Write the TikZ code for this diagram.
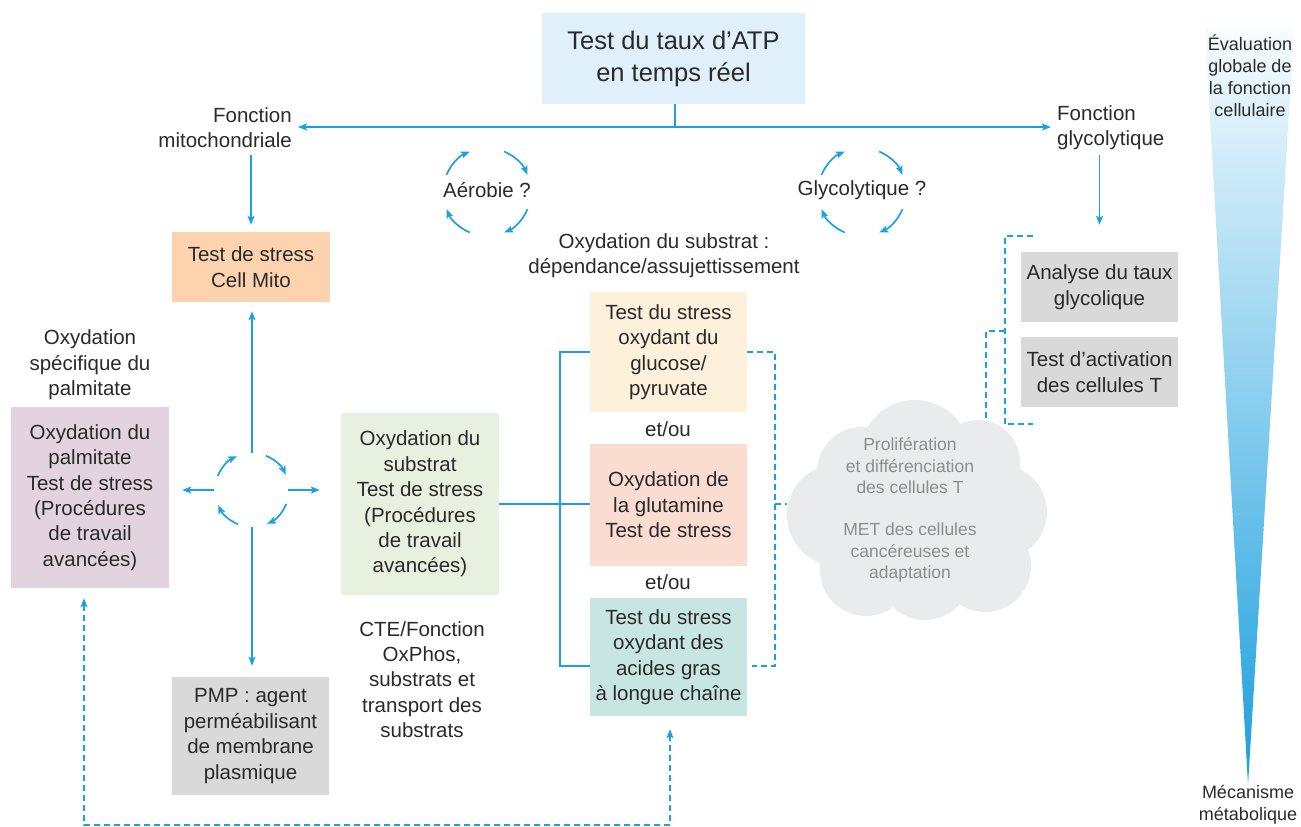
\documentclass[tikz,border=0pt]{standalone}
\usepackage{fontspec}
\setmainfont{Liberation Sans}
\usetikzlibrary{arrows.meta,calc}

\definecolor{flow}{HTML}{1BA1E2}
\definecolor{ink}{HTML}{2A2A2A}
\definecolor{atpblue}{HTML}{DFF0FA}
\definecolor{peach}{HTML}{FDD3AF}
\definecolor{mauve}{HTML}{E2D3DF}
\definecolor{sage}{HTML}{E8F1DF}
\definecolor{greybox}{HTML}{D9D9D9}
\definecolor{cream}{HTML}{FEF1DC}
\definecolor{salmon}{HTML}{FADCD1}
\definecolor{teal}{HTML}{C8E6E1}
\definecolor{cloudgrey}{HTML}{EAEBED}
\definecolor{cloudink}{HTML}{8C8E91}
\definecolor{triTop}{HTML}{F6FBFE}
\definecolor{triMid}{HTML}{A9DBF3}
\definecolor{triBot}{HTML}{1A9FDD}

\begin{document}
\begin{tikzpicture}[x=1pt,y=-1pt,
  every node/.style={text=ink, font=\fontsize{20.5}{25.4}\selectfont, align=center, inner sep=0pt},
  box/.style={rectangle, minimum width=158pt},
  small/.style={font=\fontsize{18}{22}\selectfont},
  flowline/.style={draw=flow, line width=1.7pt},
  tip/.style={-{Stealth[length=9pt,width=7pt,inset=2pt]}},
  arr/.style={flowline, tip},
  dashline/.style={draw=flow, line width=1.6pt, dash pattern=on 6pt off 4pt},
  dasharr/.style={dashline, {Stealth[length=9pt,width=7pt,inset=2pt]}-{Stealth[length=9pt,width=7pt,inset=2pt]}}
]
\useasboundingbox (0,0) rectangle (1301,827);

% gradient wedge on the right
\shade[top color=triTop, middle color=triMid, bottom color=triBot]
  (1205,30) -- (1294,30) -- (1248,785) -- cycle;
\node[small] (eval) at (1250,76) {Évaluation\\globale de\\la fonction\\cellulaire};
\node[small] (mech) at (1248,805) {Mécanisme\\métabolique};

% cloud
\begin{scope}
  \fill[cloudgrey] (915,512) ellipse [x radius=108, y radius=82];
  \foreach \cx/\cy/\r in {915/455/55, 862/472/45, 838/515/51, 866/570/46,
                          925/574/46, 985/566/46, 1000/512/47, 978/462/42}
    \fill[cloudgrey] (\cx,\cy) circle [radius=\r pt];
\end{scope}
\coordinate (cloudW) at (787,504);
\node[font=\fontsize{17.5}{21.3}\selectfont, text=cloudink] (cloudtxt) at (910,510)
  {Prolifération\\et différenciation\\des cellules T\\[21.3pt]MET des cellules\\cancéreuses et\\adaptation};

% top
\node[box, fill=atpblue, minimum width=263pt, minimum height=91pt,
      font=\fontsize{25.5}{32}\selectfont] (atp) at (673.5,58.5) {Test du taux d’ATP\\en temps réel};
\node[anchor=east, align=right] (mito) at (292,127.5) {Fonction\\mitochondriale};
\node[anchor=west, align=left] (glyco) at (1057,127.5) {Fonction\\glycolytique};
\coordinate (hub) at (675,127);
\draw[flowline] (atp.south -| hub) -- (hub);
\draw[arr, shorten >=6pt] (hub) -- (hub -| mito.east);
\draw[arr, shorten >=6pt] (hub) -- (hub -| glyco.west);

% question cycles
\node (aero) at (487,190) {Aérobie ?};
\node (glyq) at (862,190) {Glycolytique ?};
\coordinate (aeroC) at (487,192);
\coordinate (glyC) at (862,192);
\foreach \c in {aeroC,glyC}
  \foreach \a in {0,90,180,270}
    \draw[arr] ($(\c)+(\a+23:44)$) arc[start angle=\a+23, end angle=\a+67, radius=44];

\node (oxsub) at (664,255.5) {Oxydation du substrat :\\dépendance/assujettissement};

% left column
\node[box, fill=peach, minimum height=70pt] (cellmito) at (251,267) {Test de stress\\Cell Mito};
\draw[arr, shorten <=7pt, shorten >=7pt] (cellmito.north |- mito.south) -- (cellmito.north);

\node (palmlbl) at (90,365) {Oxydation\\spécifique du\\palmitate};
\node[box, fill=mauve, minimum height=181pt] (palm) at (90,497.5)
  {Oxydation du\\palmitate\\Test de stress\\(Procédures\\de travail\\avancées)};
\node[box, fill=sage, minimum height=182pt] (substrat) at (420,504)
  {Oxydation du\\substrat\\Test de stress\\(Procédures\\de travail\\avancées)};
\node[box, fill=greybox, minimum width=157pt, minimum height=118pt] (pmp) at (250.5,736)
  {PMP : agent\\perméabilisant\\de membrane\\plasmique};
\node (cte) at (422,679.5) {CTE/Fonction\\OxPhos,\\substrats et\\transport des\\substrats};

% cross of choices
\coordinate (cross) at (252,490);
\foreach \a in {0,90,180,270}
  \draw[arr] ($(cross)+(\a+22:37)$) arc[start angle=\a+22, end angle=\a+66, radius=37];
\draw[arr, shorten >=9pt] ($(cross)+(0,-37)$) -- (cross |- cellmito.south);
\draw[arr, shorten >=11pt] ($(cross)+(0,37)$) -- (cross |- pmp.north);
\draw[arr, shorten >=13pt] ($(cross)+(-38,0)$) -- (cross -| palm.east);
\draw[arr, shorten >=21pt] ($(cross)+(36,0)$) -- (cross -| substrat.west);

% middle column
\node[box, fill=cream, minimum width=157pt, minimum height=120pt] (glu) at (668.5,352)
  {Test du stress\\oxydant du\\glucose/\\pyruvate};
\node (etou1) at (668,429) {et/ou};
\node[box, fill=salmon, minimum width=157pt, minimum height=122pt] (glut) at (668.5,505)
  {Oxydation de\\la glutamine\\Test de stress};
\node (etou2) at (668,582) {et/ou};
\node[box, fill=teal, minimum width=157pt, minimum height=118pt] (fa) at (668.5,657)
  {Test du stress\\oxydant des\\acides gras\\à longue chaîne};

\draw[flowline] (glu.west) -- ++(-30,0) |- ([yshift=-9pt]fa.west);
\draw[flowline] (substrat.east) -- (substrat.east -| glut.west);
\draw[dashline] (glu.east) -- ++(28,0) |- ([xshift=5pt,yshift=-9pt]fa.east);
\draw[dashline] ($(glut.east)+(28,-1)$) -- (cloudW);

% right column
\node[box, fill=greybox, minimum width=157pt, minimum height=70pt] (gly) at (1099.5,287)
  {Analyse du taux\\glycolique};
\node[box, fill=greybox, minimum width=157pt, minimum height=70pt] (tcell) at (1099.5,372)
  {Test d’activation\\des cellules T};
\draw[arr, shorten <=5pt, shorten >=27pt] (gly.north |- glyco.south) -- (gly.north);
\draw[dashline] ($(gly.north west)+(12,-16)$) -- ++(-28,0) |- ($(tcell.south west)+(12,17)$);
\coordinate (glyMid) at ($(gly.south west)!0.5!(tcell.north west)$);
\draw[dashline] ($(glyMid)+(-16,1.5)$) -- ++(-19,0) -- ++(0,91);

% feedback loop along the bottom
\coordinate (ybot) at (0,825);
\draw[dasharr, shorten <=10pt, shorten >=13pt]
  ([xshift=-6pt]palm.south) -- ([xshift=-6pt]palm.south |- ybot)
  -- ([xshift=1.5pt]fa.south |- ybot) -- ([xshift=1.5pt]fa.south);
\end{tikzpicture}
\end{document}
